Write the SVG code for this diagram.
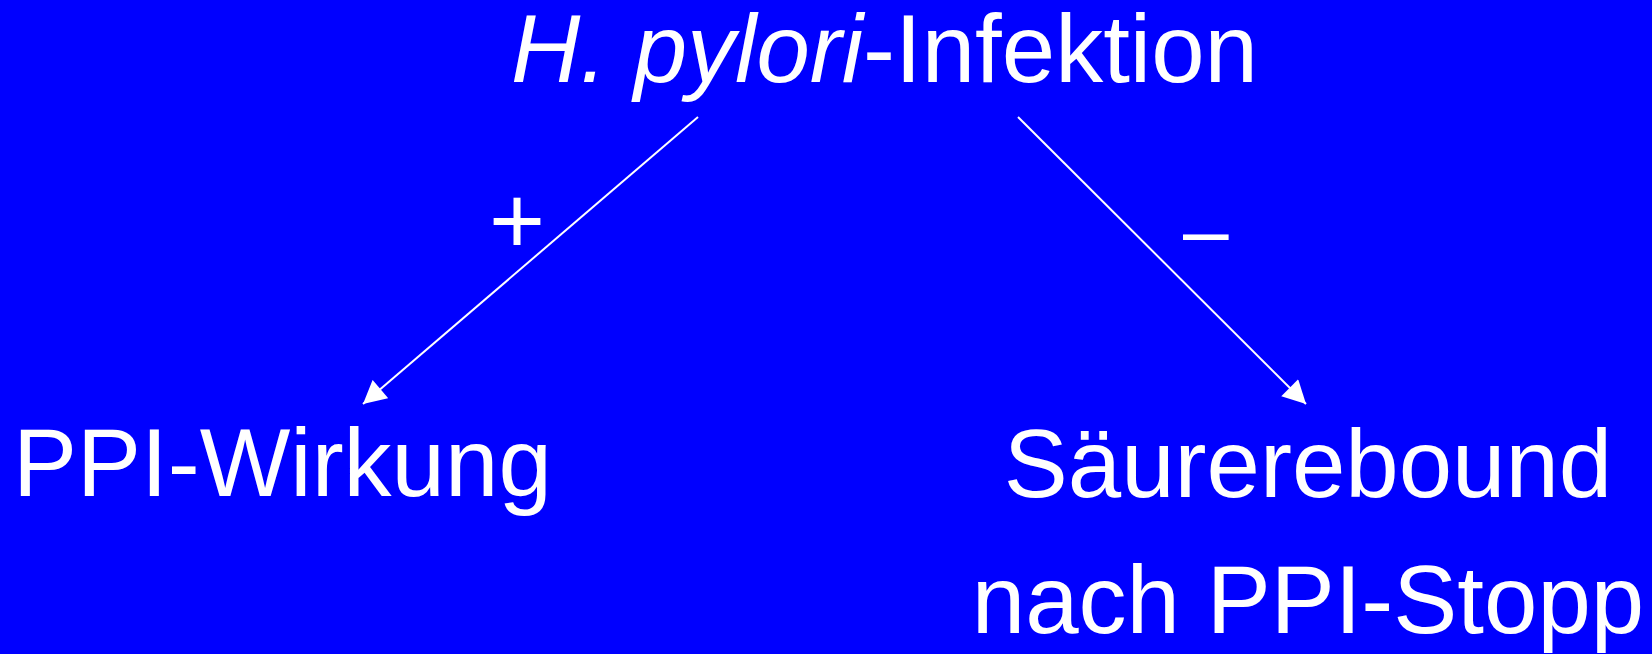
<svg xmlns="http://www.w3.org/2000/svg" width="1652" height="654" viewBox="0 0 1652 654">
<style>
.t{font-family:"Liberation Sans",Arial,sans-serif;font-size:96px;fill:#fff}
.c{stroke:#fff;stroke-width:2;fill:none}
</style>
<defs>
<marker id="ah" markerUnits="userSpaceOnUse" markerWidth="24" markerHeight="24" viewBox="0 0 22 23" refX="22" refY="11.5" orient="auto">
<path d="M0,0 L22,11.5 L0,23 z" fill="#fff"/>
</marker>
</defs>
<rect width="1652" height="654" fill="#0000FF"/>
<g id="connectors">
<line class="c" x1="698" y1="117" x2="363" y2="404" marker-end="url(#ah)"/>
<line class="c" x1="1018" y1="117" x2="1306" y2="404" marker-end="url(#ah)"/>
<text class="t" x="517" y="254" text-anchor="middle">+</text>
<text class="t" x="1183" y="258" style="font-size:82px">–</text>
</g>
<g id="node-hpylori">
<text class="t" x="511" y="82"><tspan font-style="italic">H. pylori</tspan>-Infektion</text>
</g>
<g id="node-ppi">
<text class="t" x="13" y="496">PPI-Wirkung</text>
</g>
<g id="node-rebound">
<text class="t" x="1308" y="497" text-anchor="middle">Säurerebound</text>
<text class="t" x="1308" y="633" text-anchor="middle">nach PPI-Stopp</text>
</g>
</svg>
